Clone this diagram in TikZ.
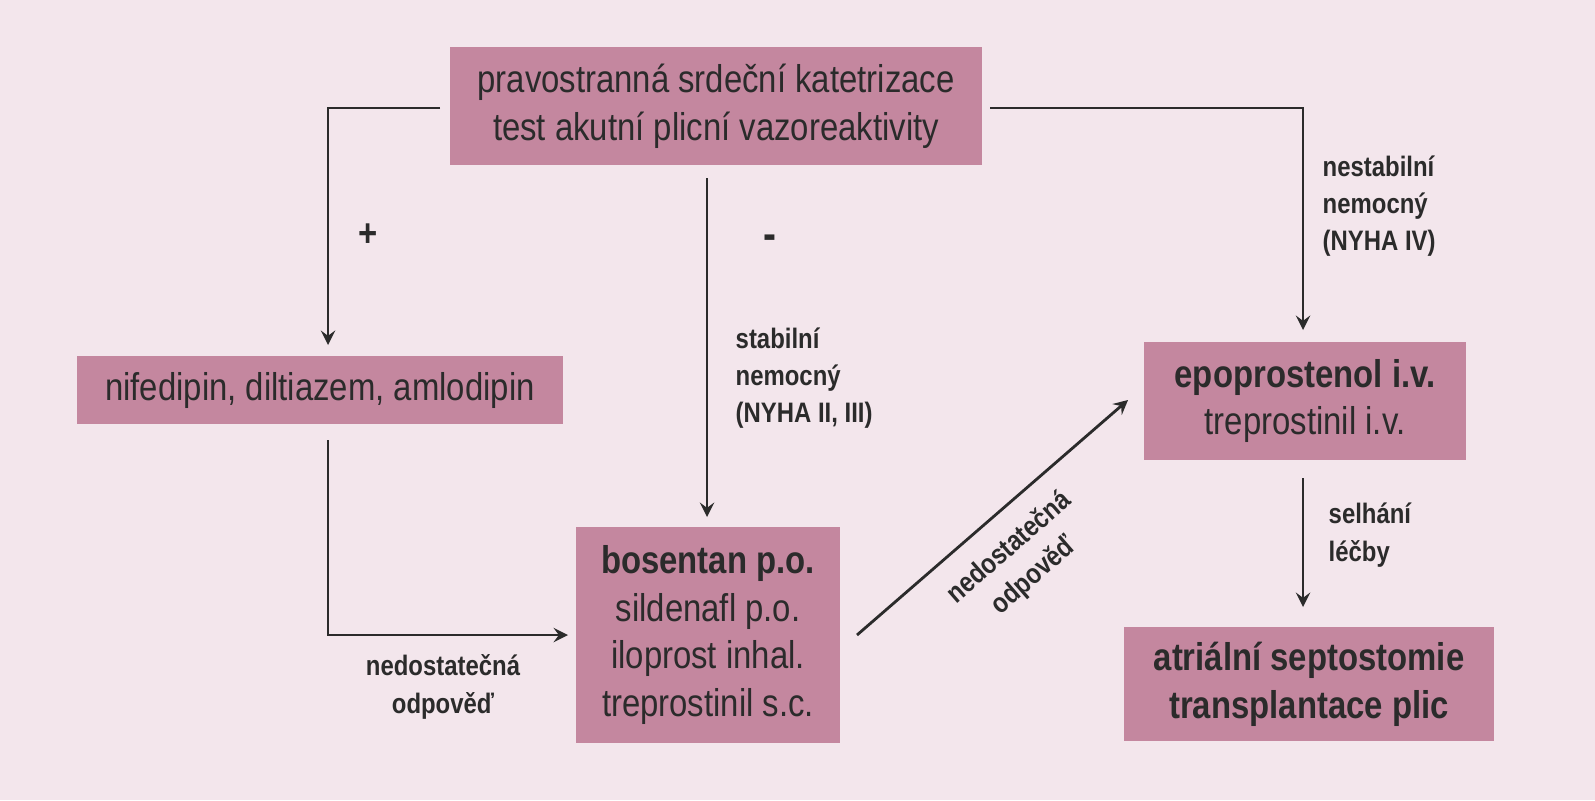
\documentclass[tikz,border=0pt]{standalone}
\usepackage{fontspec}
\setmainfont{Liberation Sans}[FakeStretch=0.85]
\usetikzlibrary{positioning}
\definecolor{bgpink}{HTML}{F3E6EC}
\definecolor{boxpink}{HTML}{C4879F}
\definecolor{ink}{HTML}{2B2B2B}
\tikzset{
  box/.style={fill=boxpink,text=ink,align=center,font=\fontsize{11}{13.6}\selectfont,inner sep=0pt},
  lbl/.style={text=ink,align=left,font=\fontsize{8}{10.6}\selectfont\bfseries,inner sep=0pt},
  arr/.style={draw=ink,line width=0.8pt,-stealth}
}
\begin{document}
\begin{tikzpicture}[x=0.01cm,y=-0.01cm]
\useasboundingbox[fill=bgpink] (0,0) rectangle (1595,800);
% boxes
\node[box,minimum width=5.32cm,minimum height=1.17cm] (rhc) at (716,106) {pravostranná srdeční katetrizace\\test akutní plicní vazoreaktivity};
\node[box,minimum width=4.85cm,minimum height=0.67cm] (ccb) at (320,390) {nifedipin, diltiazem, amlodipin};
\node[box,minimum width=2.64cm,minimum height=2.15cm] (bos) at (708,635) {\textbf{bosentan p.o.}\\sildenafl p.o.\\iloprost inhal.\\treprostinil s.c.};
\node[box,minimum width=3.21cm,minimum height=1.17cm] (epo) at (1305,401) {\textbf{epoprostenol i.v.}\\treprostinil i.v.};
\node[box,minimum width=3.69cm,minimum height=1.14cm,font=\fontsize{11}{13.6}\selectfont\bfseries] (atr) at (1309,684) {atriální septostomie\\transplantace plic};
% free ends
\coordinate (c1) at (440,108);
\coordinate (c2) at (328,345);
\coordinate (c3) at (707,178);
\coordinate (c4) at (707,517);
\coordinate (c5) at (990,108);
\coordinate (c6) at (1303,330);
\coordinate (c7) at (328,440);
\coordinate (c8) at (568,635);
\coordinate (c9) at (857,635);
\coordinate (c10) at (1128,400);
\coordinate (c11) at (1303,478);
\coordinate (c12) at (1303,607);
% connectors
\draw[arr] (c1) -| (c2);
\draw[arr] (c3) -- (c4);
\draw[arr] (c5) -| (c6);
\draw[arr] (c7) |- (c8);
\draw[arr] (c9) -- (c10);
\draw[arr] (c11) -- (c12);
% labels
\node[lbl,font=\fontsize{11}{11}\selectfont\bfseries] (plus) at (368,235) {+};
\node[lbl,font=\fontsize{13}{13}\selectfont\bfseries] (minus) at (770,242) {-};
\node[lbl,anchor=west] (stab) at (735,378) {stabilní\\nemocný\\(NYHA II, III)};
\node[lbl,anchor=west] (nest) at (1322,206) {nestabilní\\nemocný\\(NYHA IV)};
\node[lbl,align=center] (ned1) at (443,687) {nedostatečná\\odpověď};
\node[lbl,align=center,rotate=41] (ned2) at (1022,562) {nedostatečná\\odpověď};
\node[lbl,anchor=west] (selh) at (1328,535) {selhání\\léčby};
\end{tikzpicture}
\end{document}
